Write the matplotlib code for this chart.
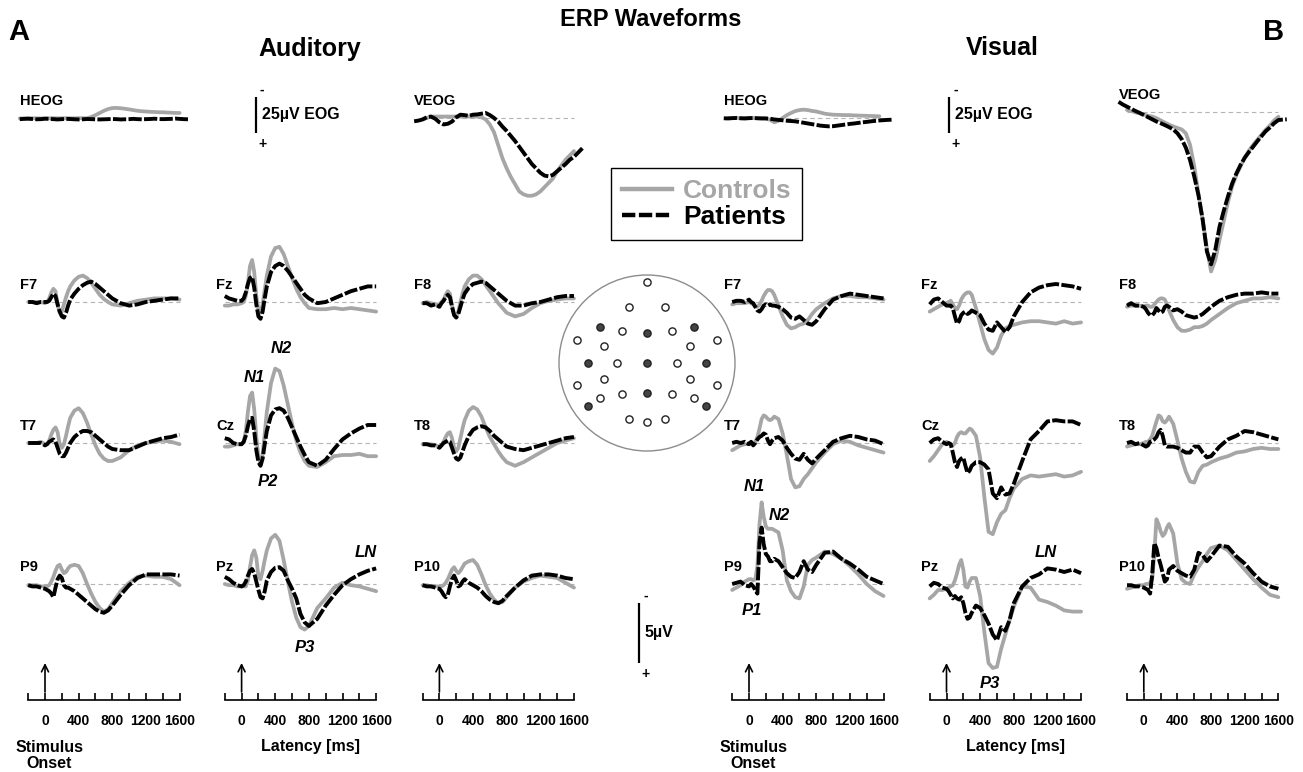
import numpy as np
import matplotlib.pyplot as plt
from matplotlib.lines import Line2D
from matplotlib.patches import Circle
import matplotlib.transforms as mtransforms

plt.rcParams['font.family'] = ['Liberation Sans', 'DejaVu Sans']
plt.rcParams['font.weight'] = 'bold'

nan = np.nan

# ---- time bases (ms) ----
t_erp = [-200, -150, -100, -50, 0,
         25, 50, 75, 100, 125, 150, 175, 200, 225, 250, 275, 300,
         350, 400, 450, 500, 550, 600, 650, 700, 750, 800,
         900, 1000, 1100, 1200, 1300, 1400, 1500, 1600]
t_eog = list(range(-300, 1701, 50))

# ---- EOG (uV), negative plotted up ----
aud_heog_ctrl = [0.3, 0.3, 0.2, 0.2, 0.2, 0.3, 0.2, 0.2, 0.1, 0.2, 0.2, 0.1, 0.2, 0.2, 0.1, 0.1, 0.2,
                 -0.7, -2.0, -3.5, -5.0, -6.2, -6.9, -7.0, -6.8, -6.4, -6.0, -5.5, -5.0, -4.7, -4.5,
                 -4.3, -4.2, -4.0, -4.0, -3.8, -3.7, -3.5, -3.5, nan, nan]
aud_heog_pat = [0.8, 0.6, 0.5, 0.7, 0.9, 0.8, 0.5, 0.6, 0.8, 1.0, 0.8, 0.6, 0.7, 0.9, 1.0, 0.9, 0.7,
                0.8, 0.9, 1.0, 0.9, 0.8, 0.7, 0.8, 1.0, 0.9, 0.8, 0.6, 0.8, 0.9, 0.8, 0.7, 0.5, 0.7,
                0.8, 0.7, 0.6, 0.4, 0.6, 0.8, 0.9]
aud_veog_ctrl = [nan, nan, 1, 0, -1, -1, -1, -1, -1, -1, -1, -1, -1, -1, -1, -1,
                 -0.5, 1, 4.5, 10, 19, 28, 35, 41, 46, 51, 53, 54, 54, 53, 51, 48, 45, 42, 37, 33,
                 29, 26, 23, nan, nan]
aud_veog_pat = [2.3, 1.8, 1.0, -0.5, -1.0, 0.5, 3.0, 4.5, 4.0, 2.5, -0.5, -2.3, -2.0, -1.5, -2.3,
                -2.5, -3.0, -3.5, -2.0, 0.0, 2.5, 6.0, 9.0, 12.5, 16.0, 20.0, 24.0, 28.0, 32.0, 35.0,
                38.0, 40.0, 40.5, 39.5, 37.0, 34.5, 32.0, 29.0, 27.0, 24.0, 21.0]
vis_heog_ctrl = [nan, 0.2, 0.1, 0.0, 0.1, 0.2, 0.1, 0.0, 0.1, 0.2, 0.3,
                 1.2, 3.0, 2.0, 0.0, -2.0, -3.5, -4.8, -5.5, -5.8, -5.5, -4.9, -4.5, -3.8, -3.0,
                 -2.6, -2.3, -2.2, -2.1, -2.0, -2.0, -1.8, -1.7, -1.6, -1.5, -1.4, -1.3, -1.2,
                 nan, nan, nan]
vis_heog_pat = [0.2, 0.3, 0.1, 0.0, 0.2, 0.3, 0.1, 0.0, 0.2, 0.3, 0.3,
                0.5, 1.0, 1.3, 1.6, 1.9, 2.1, 2.3, 2.8, 3.3, 3.8, 4.3, 4.8, 5.3, 5.6, 5.8, 5.7,
                5.3, 4.9, 4.5, 4.1, 3.8, 3.4, 3.0, 2.7, 2.3, 2.0, 1.7, 1.5, 1.3, 1.2]
vis_veog_ctrl = [nan, nan, -1.2, -0.5, 0.5, 1.2, 2.0, 2.8, 3.4, 4.5, 6.0, 7.5, 9.0, 10.2, 11.3,
                 12.3, 15, 23, 38, 57, 75, 95, 111, 103, 89, 76, 63, 52, 44, 38, 32, 27, 23, 19.5,
                 16, 12.5, 9.5, 6, 3.5, nan, nan]
vis_veog_pat = [-6.9, -5.0, -3.5, -2.0, -0.5, 0.8, 2.3, 3.8, 5.3, 6.8, 8.0, 9.3, 10.7, 12.3, 15.0,
                19.0, 25.0, 33.6, 45.0, 58.0, 75.0, 97.0, 106.0, 96.0, 80.0, 69.0, 59.0, 50.0, 43.0,
                37.0, 32.0, 28.0, 24.3, 20.5, 17.0, 13.5, 11.0, 8.0, 5.8, 5.5, 5.3]

# ---- auditory ERPs (uV) ----
aud_f7_ctrl = [0, 0, 0, 0, 0.1,
               0, -0.3, -0.8, -1.1, -0.9, 0.2, 0.9, 0.8, 0.2, -0.4, -0.9, -1.3,
               -1.8, -2.1, -2.2, -2.0, -1.6, -1.1, -0.6, -0.25, 0.0, 0.2,
               0.3, 0.1, -0.1, -0.2, -0.3, -0.3, -0.3, -0.2]
aud_f7_pat = [0, 0, 0.1, 0, 0,
              0, -0.1, -0.4, -0.7, -0.5, 0.2, 0.8, 1.2, 1.3, 0.9, 0.3, -0.2,
              -0.7, -1.1, -1.4, -1.6, -1.7, -1.5, -1.2, -0.9, -0.6, -0.3,
              0.1, 0.3, 0.2, 0.0, -0.1, -0.2, -0.3, -0.3]
aud_fz_ctrl = [0.3, 0.3, 0.2, 0.2, 0.1,
               0, -0.5, -1.6, -3.0, -3.5, -2.5, -0.5, 0.7, 0.9, 0.2, -1.0, -2.2,
               -3.8, -4.5, -4.6, -4.0, -3.0, -2.0, -1.1, -0.4, 0.1, 0.5,
               0.6, 0.6, 0.5, 0.6, 0.5, 0.6, 0.7, 0.8]
aud_fz_pat = [-0.5, -0.3, -0.2, -0.1, -0.1,
              -0.3, -0.8, -1.5, -2.0, -2.1, -1.2, 0.2, 1.2, 1.4, 0.8, -0.3, -1.3,
              -2.5, -3.0, -3.2, -3.0, -2.6, -2.1, -1.6, -1.1, -0.6, -0.3,
              0.1, 0.0, -0.3, -0.6, -0.9, -1.1, -1.3, -1.3]
aud_f8_ctrl = [0.1, 0, 0.1, 0.2, 0.2,
               0, -0.2, -0.6, -0.9, -0.7, 0.3, 1.0, 1.2, 0.8, 0.0, -0.7, -1.3,
               -1.9, -2.2, -2.2, -1.9, -1.4, -0.9, -0.4, 0.1, 0.5, 0.9,
               1.2, 1.0, 0.5, 0.1, -0.1, -0.2, -0.3, -0.3]
aud_f8_pat = [0.1, 0.1, 0.3, 0.2, 0.4,
              0.1, -0.1, -0.4, -0.6, -0.4, 0.4, 1.1, 1.3, 1.0, 0.4, -0.2, -0.7,
              -1.2, -1.5, -1.6, -1.7, -1.6, -1.3, -1.0, -0.7, -0.4, -0.1,
              0.3, 0.3, 0.1, 0.0, -0.2, -0.4, -0.5, -0.5]
aud_t7_ctrl = [0, 0, 0, -0.1, 0.1,
               0.1, -0.2, -0.7, -1.1, -1.3, -0.9, 0.1, 0.4, 0.1, -0.6, -1.4, -2.1,
               -2.7, -2.9, -2.5, -1.7, -0.7, 0.2, 0.9, 1.3, 1.5, 1.5,
               1.2, 0.6, 0.2, 0.0, -0.1, -0.2, -0.1, 0.1]
aud_t7_pat = [0, 0, 0, 0, 0.2,
              0.1, -0.1, -0.2, -0.3, -0.1, 0.4, 0.9, 1.1, 1.1, 0.8, 0.4, 0.0,
              -0.5, -0.8, -1.0, -1.0, -0.9, -0.6, -0.3, 0.0, 0.3, 0.5,
              0.6, 0.6, 0.3, 0.0, -0.2, -0.4, -0.5, -0.7]
aud_cz_ctrl = [0.3, 0.3, 0.2, 0.1, 0.1,
               -0.1, -1.0, -2.6, -3.9, -4.2, -2.8, -0.5, 1.2, 1.7, 0.9, -0.8, -2.6,
               -5.0, -6.2, -6.0, -4.8, -3.2, -1.6, -0.2, 0.8, 1.5, 1.9,
               2.0, 1.6, 1.1, 1.0, 1.0, 0.9, 1.1, 1.1]
aud_cz_pat = [-0.4, -0.3, 0, 0.1, 0.1,
              -0.1, -0.6, -1.4, -2.0, -2.1, -1.0, 0.6, 1.6, 1.9, 1.3, 0.1, -1.0,
              -2.3, -2.8, -2.9, -2.7, -2.1, -1.3, -0.5, 0.3, 1.0, 1.6,
              1.9, 1.4, 0.5, -0.3, -0.8, -1.2, -1.5, -1.5]
aud_t8_ctrl = [0.1, 0.1, 0.1, 0.2, 0.3,
               0.2, -0.1, -0.5, -0.8, -0.9, -0.4, 0.4, 0.7, 0.4, -0.4, -1.2, -1.9,
               -2.7, -3.0, -2.8, -2.2, -1.3, -0.5, 0.1, 0.7, 1.2, 1.6,
               1.9, 1.6, 1.2, 0.8, 0.4, 0.0, -0.2, -0.4]
aud_t8_pat = [0.1, 0.1, 0.2, 0.2, 0.4,
              0.2, 0.0, -0.1, -0.2, -0.1, 0.4, 0.9, 1.3, 1.4, 1.2, 0.7, 0.2,
              -0.6, -1.1, -1.3, -1.4, -1.3, -1.0, -0.6, -0.3, 0.0, 0.3,
              0.5, 0.6, 0.4, 0.2, 0.0, -0.2, -0.4, -0.5]
aud_p9_ctrl = [0.1, 0.1, 0.1, 0.2, 0.2,
               0.2, 0.1, -0.2, -0.6, -1.1, -1.5, -1.6, -1.2, -0.9, -1.0, -1.3, -1.5,
               -1.6, -1.5, -0.9, 0.0, 0.8, 1.5, 2.0, 2.3, 2.1, 1.6,
               0.6, -0.1, -0.6, -0.7, -0.6, -0.6, -0.4, 0.1]
aud_p9_pat = [0.1, 0.2, 0.2, 0.3, 0.4,
              0.5, 0.6, 0.8, 1.1, 0.3, -0.4, -0.7, -0.5, 0.1, 0.3, 0.3, 0.4,
              0.6, 0.9, 1.2, 1.5, 1.8, 2.1, 2.3, 2.4, 2.2, 1.8,
              0.9, 0.1, -0.5, -0.8, -0.8, -0.8, -0.8, -0.7]
aud_pz_ctrl = [0, 0.1, 0.1, 0.2, 0.2,
               0.2, 0.2, -0.3, -1.4, -2.4, -2.8, -2.2, -0.6, -0.4, -1.1, -2.0, -2.8,
               -3.8, -4.1, -3.6, -2.0, -0.2, 1.5, 2.8, 3.6, 3.8, 3.5,
               2.0, 1.2, 0.3, -0.1, 0.1, 0.2, 0.4, 0.6]
aud_pz_pat = [-0.6, -0.4, -0.1, 0.1, 0.2,
              0.1, -0.2, -0.7, -1.1, -1.25, -0.9, -0.2, 0.5, 1.1, 1.2, 0.6, -0.3,
              -1.0, -1.35, -1.4, -1.1, -0.3, 0.4, 1.2, 2.5, 3.2, 3.5,
              2.9, 1.8, 0.9, 0.1, -0.4, -0.8, -1.1, -1.3]
aud_p10_ctrl = [0.1, 0.1, 0.2, 0.2, 0.2,
                0.2, 0.1, -0.1, -0.4, -0.8, -1.2, -1.4, -1.1, -0.9, -1.1, -1.4, -1.7,
                -1.9, -2.0, -1.6, -0.8, 0.1, 0.8, 1.3, 1.6, 1.5, 1.1,
                0.3, -0.2, -0.5, -0.7, -0.6, -0.5, -0.1, 0.3]
aud_p10_pat = [0.1, 0.2, 0.2, 0.3, 0.4,
               0.6, 0.9, 1.1, 0.9, 0.2, -0.4, -0.7, -0.3, 0.2, 0.1, -0.2, -0.4,
               -0.1, 0.1, 0.3, 0.6, 1.0, 1.3, 1.5, 1.6, 1.4, 1.0,
               0.3, -0.3, -0.7, -0.8, -0.8, -0.7, -0.5, -0.4]

# ---- visual ERPs (uV) ----
vis_f7_ctrl = [0.2, 0.1, 0.1, 0.1, 0,
               0.1, 0.2, 0.4, 0.4, 0.2, -0.1, -0.5, -0.8, -1.0, -1.0, -0.9, -0.6,
               0.3, 1.2, 1.9, 2.2, 2.1, 1.9, 1.8, 1.5, 1.0, 0.6,
               0.1, -0.3, -0.5, -0.5, -0.4, -0.4, -0.3, -0.2]
vis_f7_pat = [0, -0.1, -0.1, 0, -0.2,
              0, 0.1, 0.4, 0.7, 0.8, 0.6, 0.3, 0.2, 0.3, 0.2, 0.3, 0.3,
              0.4, 0.6, 0.9, 1.3, 1.4, 1.2, 1.5, 1.8, 1.9, 1.6,
              0.6, -0.2, -0.5, -0.7, -0.6, -0.5, -0.4, -0.3]
vis_fz_ctrl = [0.8, 0.6, 0.4, 0.2, 0.1,
               0, -0.1, 0.2, 0.5, 0.6, 0.3, -0.2, -0.5, -0.7, -0.8, -0.8, -0.6,
               0.5, 1.8, 3.1, 4.0, 4.3, 3.8, 2.8, 2.2, 2.0, 1.9,
               1.7, 1.6, 1.6, 1.7, 1.8, 1.6, 1.8, 1.7]
vis_fz_pat = [0.2, -0.2, -0.3, 0, 0.3,
              0.3, 0.3, 0.5, 1.2, 1.8, 1.6, 1.1, 0.9, 0.8, 1.0, 0.9, 0.7,
              0.9, 1.1, 1.8, 2.3, 2.4, 1.7, 2.1, 2.5, 2.1, 1.2,
              0.0, -0.8, -1.2, -1.4, -1.5, -1.4, -1.3, -1.1]
vis_f8_ctrl = [0.4, 0.3, 0.3, 0.3, 0.4,
               0.3, 0.3, 0.4, 0.4, 0.2, 0.0, -0.2, -0.3, -0.3, -0.2, 0.2, 0.7,
               1.5, 2.1, 2.4, 2.4, 2.3, 2.1, 2.1, 2.0, 1.8, 1.5,
               1.0, 0.5, 0.1, -0.1, -0.3, -0.3, -0.4, -0.3]
vis_f8_pat = [0.3, 0.1, 0.3, 0.3, 0.4,
              0.6, 0.9, 1.1, 1.1, 0.9, 0.5, 0.7, 0.9, 0.8, 0.4, 0.3, 0.4,
              0.7, 0.6, 0.8, 1.1, 1.2, 1.3, 1.2, 1.0, 0.7, 0.4,
              -0.1, -0.4, -0.6, -0.7, -0.7, -0.8, -0.7, -0.7]
vis_t7_ctrl = [0.6, 0.4, 0.2, 0.1, 0.1,
               0, 0, -0.1, -0.5, -1.2, -2.0, -2.3, -2.2, -2.0, -1.9, -2.0, -2.2,
               -2.0, -0.8, 1.0, 3.0, 3.7, 3.6, 3.0, 2.6, 2.1, 1.6,
               0.8, 0.1, -0.2, -0.1, 0.2, 0.4, 0.6, 0.8]
vis_t7_pat = [0, -0.1, 0, -0.1, 0.1,
              -0.1, 0.2, 0, -0.3, -0.5, -0.6, -0.8, -0.7, -0.2, 0.1, -0.2, -0.4,
              -0.5, -0.2, 0.4, 0.9, 1.3, 1.4, 0.9, 1.4, 1.7, 1.3,
              0.6, -0.1, -0.4, -0.6, -0.5, -0.3, -0.2, 0.1]
vis_cz_ctrl = [1.5, 1.1, 0.6, 0.1, -0.1,
               0, 0.1, 0.2, 0, -0.5, -0.8, -0.9, -0.8, -0.8, -1.0, -1.2, -1.1,
               -0.6, 1.2, 4.5, 7.4, 7.6, 6.6, 5.9, 5.6, 4.6, 3.8,
               3.0, 2.7, 2.8, 2.7, 2.6, 2.8, 2.7, 2.4]
vis_cz_pat = [0, -0.3, -0.4, -0.1, 0.1,
              0.0, 0.1, 0.8, 1.6, 2.0, 1.5, 1.3, 1.2, 1.9, 2.5, 2.3, 1.9,
              1.6, 1.6, 1.8, 2.2, 4.2, 4.6, 3.7, 4.3, 4.2, 3.4,
              1.5, -0.3, -1.0, -1.8, -1.9, -1.8, -1.8, -1.5]
vis_t8_ctrl = [0.3, 0.2, 0.1, 0.1, 0,
               -0.1, -0.1, -0.3, -0.6, -1.2, -1.8, -2.3, -2.2, -1.8, -1.7, -1.9, -2.2,
               -1.6, -0.2, 1.3, 2.4, 3.2, 3.3, 2.4, 1.9, 1.8, 1.6,
               1.3, 1.1, 0.8, 0.7, 0.5, 0.4, 0.5, 0.5]
vis_t8_pat = [0, -0.1, 0.1, 0, 0.2,
              0.3, 0.2, -0.1, -0.2, -0.3, -0.5, -0.9, -1.1, -0.6, 0.2, 0.3, 0.3,
              0.3, 0.4, 0.6, 0.8, 0.8, 0.3, 0.3, 0.8, 1.2, 1.1,
              0.3, -0.3, -0.6, -1.0, -0.9, -0.7, -0.5, -0.3]
vis_p9_ctrl = [0.5, 0.3, 0.1, -0.2, -0.4,
               -0.4, -0.3, -0.4, -1.5, -5.0, -6.8, -5.6, -4.8, -4.6, -4.6, -4.6, -4.5,
               -4.3, -2.8, -0.3, 0.6, 1.1, 1.2, 0.2, -1.6, -2.0, -2.2,
               -2.7, -2.5, -2.1, -1.5, -0.8, 0.0, 0.6, 1.0]
vis_p9_pat = [0, -0.1, -0.2, 0.1, 0.2,
              0, 0.2, 0.5, 0.8, -3.5, -4.7, -3.3, -2.5, -2.3, -1.9, -1.9, -2.1,
              -1.9, -1.4, -0.9, -0.6, -0.5, -1.0, -1.9, -1.2, -1.0, -1.6,
              -2.6, -2.7, -2.1, -1.7, -1.2, -0.6, -0.3, 0.0]
vis_pz_ctrl = [1.2, 0.9, 0.5, 0.5, 0.4,
               0.3, 0.2, 0.1, -0.3, -0.9, -1.6, -2.0, -1.2, 0.2, 0.3, -0.2, -0.5,
               -0.5, 1.0, 4.0, 6.6, 7.0, 6.9, 5.4, 4.2, 3.0, 1.9,
               0.2, 0.3, 1.3, 1.5, 1.8, 2.2, 2.3, 2.3]
vis_pz_pat = [0.2, -0.1, 0.0, 0.3, 0.4,
              0.6, 0.9, 1.2, 1.0, 1.2, 1.3, 1.1, 1.6, 2.4, 2.9, 2.8, 2.4,
              1.8, 2.0, 2.6, 3.3, 4.2, 4.7, 3.6, 3.9, 3.0, 1.6,
              0.2, -0.5, -0.8, -1.3, -1.2, -1.0, -1.2, -0.9]
vis_p10_ctrl = [0.4, 0.3, 0.2, 0.1, 0.1,
                0, 0, -0.1, -0.4, -2.5, -5.4, -5.0, -4.4, -4.0, -4.2, -4.7, -5.0,
                -4.2, -1.7, -0.4, -0.1, 0.0, -0.8, -1.4, -1.9, -2.5, -3.0,
                -3.2, -2.8, -2.0, -1.2, -0.4, 0.3, 0.9, 1.1]
vis_p10_pat = [0.1, 0.1, 0.2, 0.2, 0.3,
               0.4, 0.5, 0.8, -0.8, -3.4, -3.0, -2.2, -1.6, -0.9, -0.2, -0.4, -1.2,
               -1.5, -1.1, -0.9, -0.7, -0.6, -1.2, -2.6, -2.4, -1.9, -2.3,
               -3.2, -3.1, -2.3, -1.7, -0.9, -0.2, 0.2, 0.4]

# ---- electrode montage (head radius = 1) ----
elec_x = [0, -0.2, 0.2, -0.53, -0.284, 0, 0.284, 0.53, -0.795, -0.485, 0.485, 0.795,
          -0.667, -0.338, 0, 0.338, 0.667, -0.485, 0.485, -0.795, 0.795,
          -0.53, -0.284, 0, 0.284, 0.53, -0.667, 0.667, -0.2, 0, 0.2]
elec_y = [0.917, 0.633, 0.633, 0.406, 0.36, 0.338, 0.36, 0.406, 0.261, 0.19, 0.19, 0.261,
          0, 0, 0, 0, 0, -0.182, -0.182, -0.245, -0.245,
          -0.398, -0.352, -0.341, -0.352, -0.398, -0.484, -0.484, -0.636, -0.674, -0.636]
elec_shown = [0, 0, 0, 1, 0, 1, 0, 1, 0, 0, 0, 0,
              1, 0, 1, 0, 1, 0, 0, 0, 0,
              0, 0, 1, 0, 0, 1, 1, 0, 0, 0]

tick_major = [0, 400, 800, 1200, 1600]
tick_minor = [-200, 200, 600, 1000, 1400]

# ---- layout (pixels) ----
W, H = 1303, 772
PX_MS = 0.0841          # px per ms
K_ERP = 12.0            # px per uV (ERP)
K_EOG = 1.44            # px per uV (EOG)
COL_ZERO = [45, 241.6, 439.4, 749, 946.5, 1143.8]
ROW_BASE = [118, 302, 443, 584]
GRAY = '#a6a6a6'

panels = [
    # col, row, label, time, controls, patients, baseline override
    (0, 0, 'HEOG', t_eog, aud_heog_ctrl, aud_heog_pat, None),
    (2, 0, 'VEOG', t_eog, aud_veog_ctrl, aud_veog_pat, None),
    (0, 1, 'F7', t_erp, aud_f7_ctrl, aud_f7_pat, None),
    (1, 1, 'Fz', t_erp, aud_fz_ctrl, aud_fz_pat, None),
    (2, 1, 'F8', t_erp, aud_f8_ctrl, aud_f8_pat, None),
    (0, 2, 'T7', t_erp, aud_t7_ctrl, aud_t7_pat, None),
    (1, 2, 'Cz', t_erp, aud_cz_ctrl, aud_cz_pat, None),
    (2, 2, 'T8', t_erp, aud_t8_ctrl, aud_t8_pat, None),
    (0, 3, 'P9', t_erp, aud_p9_ctrl, aud_p9_pat, None),
    (1, 3, 'Pz', t_erp, aud_pz_ctrl, aud_pz_pat, None),
    (2, 3, 'P10', t_erp, aud_p10_ctrl, aud_p10_pat, None),
    (3, 0, 'HEOG', t_eog, vis_heog_ctrl, vis_heog_pat, None),
    (5, 0, 'VEOG', t_eog, vis_veog_ctrl, vis_veog_pat, 111.7),
    (3, 1, 'F7', t_erp, vis_f7_ctrl, vis_f7_pat, None),
    (4, 1, 'Fz', t_erp, vis_fz_ctrl, vis_fz_pat, None),
    (5, 1, 'F8', t_erp, vis_f8_ctrl, vis_f8_pat, None),
    (3, 2, 'T7', t_erp, vis_t7_ctrl, vis_t7_pat, None),
    (4, 2, 'Cz', t_erp, vis_cz_ctrl, vis_cz_pat, None),
    (5, 2, 'T8', t_erp, vis_t8_ctrl, vis_t8_pat, None),
    (3, 3, 'P9', t_erp, vis_p9_ctrl, vis_p9_pat, None),
    (4, 3, 'Pz', t_erp, vis_pz_ctrl, vis_pz_pat, None),
    (5, 3, 'P10', t_erp, vis_p10_ctrl, vis_p10_pat, None),
]

component_labels = [
    (1, 2, 'N1', 153, -5.5), (1, 2, 'N2', 468, -7.9), (1, 2, 'P2', 314, 3.25),
    (1, 3, 'LN', 1473, -2.6), (1, 3, 'P3', 754, 5.3),
    (3, 3, 'N1', 59, -8.1), (3, 3, 'N2', 357, -5.75), (3, 3, 'P1', 36, 2.2),
    (4, 3, 'LN', 1183, -2.6), (4, 3, 'P3', 517, 8.25),
]

fig = plt.figure(figsize=(W / 100, H / 100), dpi=100)


def px_axes(left, top, width, height):
    return fig.add_axes([left / W, 1 - (top + height) / H, width / W, height / H],
                        facecolor='none')


def wave_axes(zero_x, base_y, k, half=60):
    ax = px_axes(zero_x - 300 * PX_MS, base_y - half, 2000 * PX_MS, 2 * half)
    ax.set_xlim(-300, 1700)
    ax.set_ylim(half / k, -half / k)   # negative up
    ax.axis('off')
    return ax


axes_map = {}
for col, row, label, t, ctrl, pat, base in panels:
    k = K_EOG if row == 0 else K_ERP
    base_y = ROW_BASE[row] if base is None else base
    ax = wave_axes(COL_ZERO[col], base_y, k)
    axes_map[(col, row)] = ax
    ax.plot([t_erp[0], t_erp[-1]], [0, 0], color='#b4b4b4', lw=0.8,
            dashes=(4, 3), clip_on=False)
    ax.plot(t, ctrl, color=GRAY, lw=2.7, clip_on=False, solid_capstyle='round',
            solid_joinstyle='round')
    ax.plot(t, pat, color='black', lw=2.8, dashes=(3.4, 0.6), clip_on=False)
    ax.annotate(label, xy=(-300, 0), xytext=(0, 12), textcoords='offset points',
                ha='left', va='center', fontsize=10.5, weight='bold')

for col, row, text, t, v in component_labels:
    axes_map[(col, row)].text(t, v, text, ha='center', va='center', fontsize=12,
                              weight='bold', style='italic')

# ---- latency axes with stimulus-onset arrows ----
for i, zx in enumerate(COL_ZERO):
    ax = px_axes(zx - 300 * PX_MS, 655, 2000 * PX_MS, 45)
    ax.set_xlim(-300, 1700)
    ax.set_ylim(0, 45)
    for s in ['top', 'right', 'left']:
        ax.spines[s].set_visible(False)
    ax.spines['bottom'].set_bounds(-200, 1600)
    ax.spines['bottom'].set_linewidth(1.2)
    ax.set_yticks([])
    ax.set_xticks(tick_major)
    ax.set_xticks(tick_minor, minor=True)
    ax.set_xticklabels([str(v) for v in tick_major])
    ax.tick_params(axis='x', which='both', direction='in', length=5, width=1.2,
                   pad=10, labelsize=10)
    ax.annotate('', xy=(0, 37), xytext=(0, 8),
                arrowprops=dict(arrowstyle='->,head_length=0.5,head_width=0.25',
                                lw=1.2, color='black', shrinkA=0, shrinkB=0))
    tr = mtransforms.blended_transform_factory(ax.transData, fig.transFigure)
    if i in (0, 3):
        ax.text(50, 1 - 755.5 / H, 'Stimulus\nOnset', transform=tr, ha='center',
                va='center', fontsize=11.5, linespacing=1.05)
    if i in (1, 4):
        ax.text(820, 1 - 746 / H, 'Latency [ms]', transform=tr, ha='center',
                va='center', fontsize=11.5)


# ---- calibration bars ----
def scale_bar(x_px, top_px, k, size_uv, text):
    h = size_uv * k
    ax = px_axes(x_px - 2, top_px, 4, h)
    ax.set_xlim(-1, 1)
    ax.set_ylim(size_uv, 0)
    ax.axis('off')
    ax.plot([0, 0], [0, size_uv], color='black', lw=1.6, clip_on=False,
            solid_capstyle='butt')
    ax.annotate('-', xy=(0, 0), xytext=(4.5, 5), textcoords='offset points',
                ha='center', va='center', fontsize=10)
    ax.annotate('+', xy=(0, size_uv), xytext=(4.5, -8), textcoords='offset points',
                ha='center', va='center', fontsize=10)
    ax.annotate(text, xy=(0, size_uv / 2), xytext=(4.3, 0), textcoords='offset points',
                ha='left', va='center', fontsize=11.5)


scale_bar(256, 97, K_EOG, 25, '25\u00b5V EOG')
scale_bar(949, 97, K_EOG, 25, '25\u00b5V EOG')
scale_bar(639, 603, K_ERP, 5, '5\u00b5V')

# ---- electrode map ----
R = 88
hx = px_axes(647 - 95, 363 - 95, 190, 190)
hx.set_xlim(-95 / R, 95 / R)
hx.set_ylim(-95 / R, 95 / R)
hx.axis('off')
hx.add_patch(Circle((0, 0), 1, fill=False, ec='#8c8c8c', lw=1.0))
ex = np.array(elec_x)
ey = np.array(elec_y)
on = np.array(elec_shown) == 1
hx.scatter(ex[~on], ey[~on], s=27, facecolor='white', edgecolor='#222222', lw=1.0, zorder=3)
hx.scatter(ex[on], ey[on], s=27, facecolor='#444444', edgecolor='#222222', lw=1.0, zorder=3)

# ---- legend ----
handles = [Line2D([], [], color=GRAY, lw=3.2),
           Line2D([], [], color='black', lw=3.2, dashes=(3.0, 0.8))]
leg = fig.legend(handles, ['Controls', 'Patients'], loc='upper left',
                 bbox_to_anchor=(611 / W, 1 - 168 / H), borderaxespad=0,
                 prop=dict(weight='bold', size=19), fancybox=False, framealpha=1,
                 edgecolor='black', handlelength=1.9, handletextpad=0.4,
                 borderpad=0.42, labelspacing=0.08)
leg.get_frame().set_linewidth(1.0)
leg.get_texts()[0].set_color(GRAY)

# ---- titles ----
fig.text(19 / W, 1 - 32 / H, 'A', ha='center', va='center', fontsize=21, weight='bold')
fig.text(1274 / W, 1 - 32 / H, 'B', ha='center', va='center', fontsize=21, weight='bold')
fig.text(651 / W, 1 - 20 / H, 'ERP Waveforms', ha='center', va='center', fontsize=17,
         weight='bold')
fig.text(310 / W, 1 - 49 / H, 'Auditory', ha='center', va='center', fontsize=18,
         weight='bold')
fig.text(1002 / W, 1 - 48 / H, 'Visual', ha='center', va='center', fontsize=18,
         weight='bold')

fig.savefig('out.png', dpi=100)
